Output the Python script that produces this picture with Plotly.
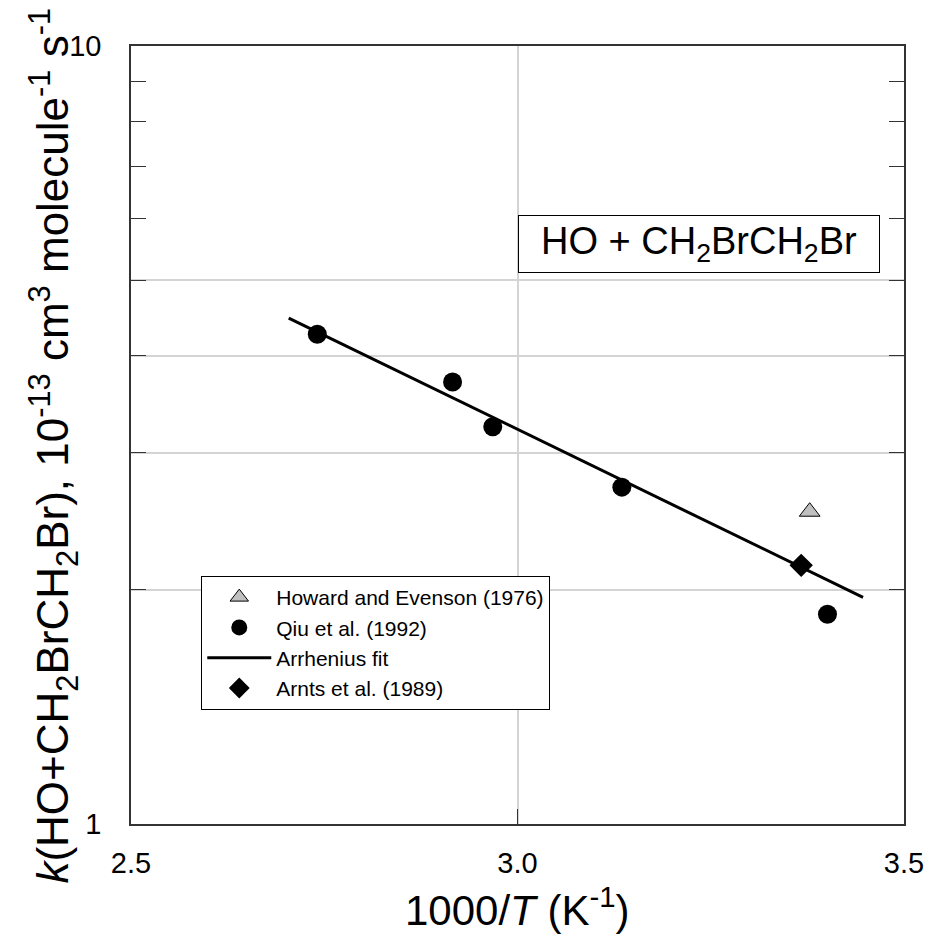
import plotly.graph_objects as go

# Rate coefficients for HO + CH2BrCH2Br, k in 1e-13 cm3 molecule-1 s-1
howard_x = [3.378]
howard_k = [2.52]

qiu_x = [2.741, 2.916, 2.968, 3.135, 3.401]
qiu_k = [4.26, 3.70, 3.24, 2.71, 1.86]

arnts_x = [3.367]
arnts_k = [2.15]

# Arrhenius fit, end points of the drawn line
fit_x = [2.704, 3.447]
fit_k = [4.47, 1.956]

x_ticks = [2.5, 3.0, 3.5]
x_tick_text = ["2.5", "3.0", "3.5"]
# log axis: labelled decades plus gridded minor values, other minor values tick only
y_grid_ticks = [1, 2, 3, 4, 5, 10]
y_grid_text = ["1", "", "", "", "", "10"]
y_plain_ticks = [6, 7, 8, 9]

FONT = "Liberation Sans, Arial, sans-serif"
AXIS_COL = "#333333"
GRID_COL = "#d4d4d4"

fig = go.Figure()

fig.add_trace(go.Scatter(
    x=fit_x, y=fit_k, mode="lines", name="Arrhenius fit",
    line=dict(color="black", width=3), legendrank=3,
))
fig.add_trace(go.Scatter(
    x=howard_x, y=howard_k, mode="markers", name="Howard and Evenson (1976)",
    marker=dict(symbol="triangle-up", size=18, color="#c0c0c0",
                line=dict(color="black", width=1)),
    legendrank=1,
))
fig.add_trace(go.Scatter(
    x=qiu_x, y=qiu_k, mode="markers", name="Qiu et al. (1992)",
    marker=dict(symbol="circle", size=19, color="black", line=dict(width=0)),
    legendrank=2,
))
fig.add_trace(go.Scatter(
    x=arnts_x, y=arnts_k, mode="markers", name="Arnts et al. (1989)",
    marker=dict(symbol="diamond", size=18, color="black", line=dict(width=0)),
    legendrank=4,
))

fig.update_layout(
    width=936, height=943,
    margin=dict(l=131, r=24, t=46, b=119),
    paper_bgcolor="white", plot_bgcolor="white",
    font=dict(family=FONT, color="black"),
    showlegend=True,
    legend=dict(
        x=0.0909, y=0.3188, xanchor="left", yanchor="top",
        bgcolor="white", bordercolor="black", borderwidth=1,
        font=dict(size=21, family=FONT, color="black"),
        itemwidth=64, tracegroupgap=0,
    ),
)

fig.update_xaxes(
    range=[2.5, 3.5],
    tickvals=x_ticks, ticktext=x_tick_text,
    ticks="inside", ticklen=15, tickcolor=AXIS_COL, tickwidth=1,
    showline=True, linecolor=AXIS_COL, linewidth=1.5, mirror=True,
    showgrid=True, gridcolor=GRID_COL, gridwidth=1.5,
    zeroline=False,
    tickfont=dict(size=29, family=FONT, color="black"),
    ticklabelstandoff=12,
)

fig.update_yaxes(
    type="log", range=[0, 1],
    tickvals=y_grid_ticks, ticktext=y_grid_text,
    ticks="inside", ticklen=15, tickcolor=AXIS_COL, tickwidth=1,
    showline=True, linecolor=AXIS_COL, linewidth=1.5, mirror="ticks",
    showgrid=True, gridcolor=GRID_COL, gridwidth=1.5,
    minor=dict(tickvals=y_plain_ticks, ticks="inside", ticklen=15,
               tickcolor=AXIS_COL, showgrid=False),
    zeroline=False,
    tickfont=dict(size=29, family=FONT, color="black"),
    ticklabelstandoff=22,
)

# Axis titles
fig.add_annotation(
    xref="paper", yref="paper", x=0.5, y=-0.107,
    xanchor="center", yanchor="middle", showarrow=False,
    text="1000/<i>T</i> (K<sup>-1</sup>)",
    font=dict(size=42, family=FONT, color="black"),
)
fig.add_annotation(
    xref="paper", yref="paper", x=-0.1, y=0.486,
    xanchor="center", yanchor="middle", showarrow=False, textangle=-90,
    text="<i>k</i>(HO+CH<sub>2</sub>BrCH<sub>2</sub>Br), 10<sup>-13</sup> cm<sup>3</sup> molecule<sup>-1</sup> s<sup>-1</sup>",
    font=dict(size=44, family=FONT, color="black"),
)

# Reaction label in a white box
fig.add_annotation(
    xref="paper", yref="paper", x=0.735, y=0.7455,
    xanchor="center", yanchor="middle", showarrow=False,
    text="HO + CH<sub>2</sub>BrCH<sub>2</sub>Br",
    font=dict(size=38, family=FONT, color="black"),
    width=356, height=52, align="center",
    bgcolor="white", bordercolor="black", borderwidth=1, borderpad=2,
)

fig.write_html("out.html")
